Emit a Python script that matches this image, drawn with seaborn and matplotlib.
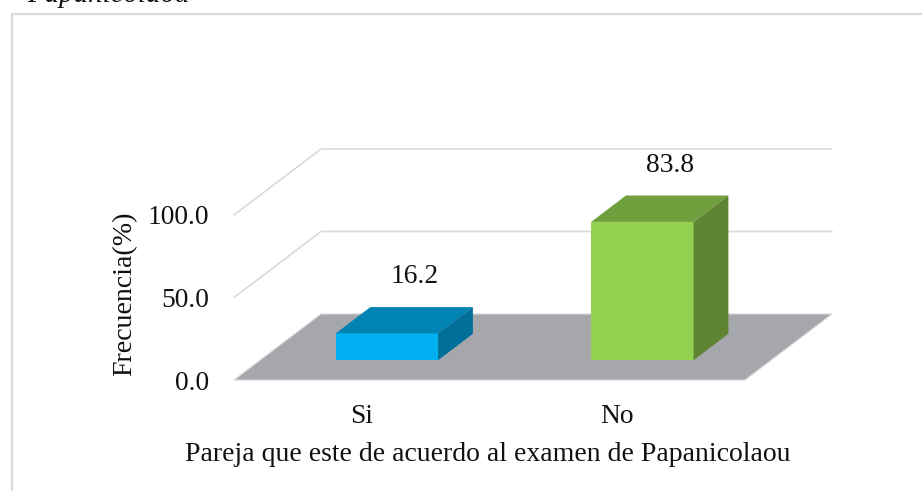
import matplotlib
matplotlib.use("Agg")
import matplotlib.pyplot as plt
import seaborn as sns
from matplotlib.patches import Polygon
from matplotlib.lines import Line2D
from matplotlib.transforms import Affine2D

categories = ["Si", "No"]
values = [16.2, 83.8]
y_ticks = [0, 50, 100]
front_colors = ["#00B0F0", "#92D050"]
top_colors = ["#0084B4", "#6F9E3C"]
side_colors = ["#006F9A", "#5E8431"]
x_title = "Pareja que este de acuerdo al examen de Papanicolaou"
y_title = "Frecuencia(%)"
cut_title = "Papanicolaou"

sns.set_theme(style="white")
plt.rcParams["font.family"] = ["Liberation Serif", "DejaVu Serif"]

W, H = 922, 491
FS = 19.8
fig = plt.figure(figsize=(W / 100, H / 100), dpi=100)
fig.patch.set_facecolor("white")
px_x = 255.5
px_y = 1.65
L, R, B, T = 234, 832, 380, 149
ax = fig.add_axes([L / W, 1 - B / H, (R - L) / W, (B - T) / H])

DX = 87 / px_x      # depth of the floor, in category units
DY = 66 / px_y      # depth of the floor, in value units
D0, D1 = 0.3, 0.7   # where the bars sit within that depth
BW = 0.401
X0 = D0 * DX - 1 / px_x

data = dict(cat=categories, val=values)
sns.barplot(data=data, x="cat", y="val", hue="cat", palette=front_colors,
            width=BW, dodge=False, legend=False, saturation=1, ax=ax, zorder=5, linewidth=0)

shift = Affine2D().translate(X0, D0 * DY) + ax.transData
for bar in ax.patches:
    bar.set_transform(shift)
    bar.set_clip_on(False)

ax.set_xlim(-0.5, -0.5 + (R - L) / px_x)
ax.set_ylim(0, (B - T) / px_y)

# floor
ax.add_patch(Polygon([(-0.5, 0), (1.5, 0), (1.5 + DX, DY), (-0.5 + DX, DY)],
                     closed=True, fc="#A5A7AD", ec="#D9D9D9", lw=0.8, zorder=1, clip_on=False))
# walls' gridlines
for t in y_ticks[1:]:
    ax.plot([-0.5, -0.5 + DX, 1.5 + DX], [t, t + DY, t + DY], color="#D9D9D9", lw=1.2,
            zorder=1, clip_on=False, solid_joinstyle="miter")

# bar depth faces
ddx, ddy = (D1 - D0) * DX, (D1 - D0) * DY
for i, v in enumerate(values):
    x0 = i - BW / 2 + X0
    x1 = i + BW / 2 + X0
    y0 = D0 * DY
    y1 = y0 + v
    ax.add_patch(Polygon([(x0, y1), (x1, y1), (x1 + ddx, y1 + ddy), (x0 + ddx, y1 + ddy)],
                         closed=True, fc=top_colors[i], ec="none", zorder=6, clip_on=False))
    ax.add_patch(Polygon([(x1, y0), (x1 + ddx, y0 + ddy), (x1 + ddx, y1 + ddy), (x1, y1)],
                         closed=True, fc=side_colors[i], ec="none", zorder=6, clip_on=False))
    ax.annotate(f"{v:.1f}", xy=(i, v), xytext=(52.5 * 0.72, 76.5 * 0.72), textcoords="offset points",
                ha="center", va="center", fontsize=FS, color="#111111", zorder=8)

ax.set_yticks(y_ticks, [f"{t:.1f}" for t in y_ticks])
ax.tick_params(axis="both", length=0, labelsize=FS, labelcolor="#111111")
ax.tick_params(axis="x", pad=17)
ax.tick_params(axis="y", pad=18)
ax.set_xlabel(x_title, fontsize=FS + 0.2, color="#111111")
ax.xaxis.set_label_coords((488 - L) / (R - L), (B - 442) / (B - T))
ax.set_ylabel(y_title, fontsize=FS + 0.3, color="#111111")
ax.yaxis.set_label_coords((137 - L) / (R - L), (B - 294) / (B - T))
for s in ax.spines.values():
    s.set_visible(False)
ax.patch.set_alpha(0)

# frame of the pasted chart
fig.add_artist(Line2D([11.5 / W, 11.5 / W, 1], [0, 1 - 14 / H, 1 - 14 / H], color="#D9D9D9", lw=1.6))
fig.text(27 / W, 1 - 1.5 / H, cut_title, fontsize=FS + 1, style="italic", color="#111111", va="baseline", ha="left")

fig.savefig("out.png", dpi=100)
